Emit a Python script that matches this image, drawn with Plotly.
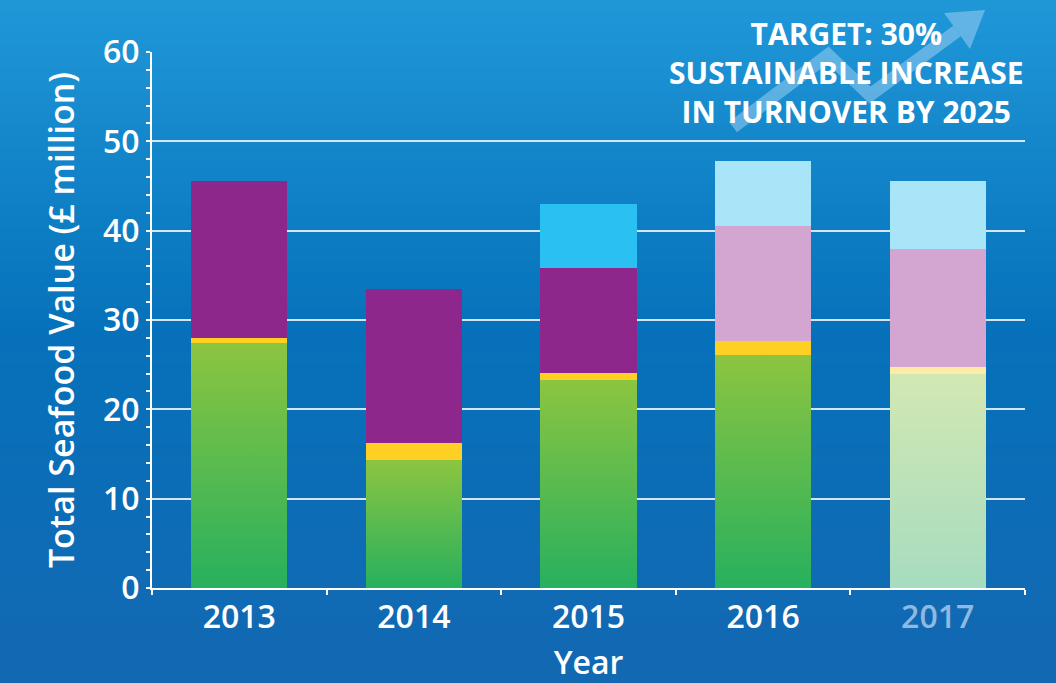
import plotly.graph_objects as go

years = ["2013", "2014", "2015", "2016", "2017"]
tick_labels = ["2013", "2014", "2015", "2016", "<span style='color:#8fb9e0'>2017</span>"]
green_vals = [27.4, 14.3, 23.3, 26.1, 23.9]
yellow_vals = [0.6, 1.9, 0.8, 1.6, 0.8]
purple_vals = [17.6, 17.3, 11.7, 12.8, 13.3]
cyan_vals = [0, 0, 7.2, 7.3, 7.6]

green_cols = ["#62bb4a", "#62bb4a", "#62bb4a", "#62bb4a", "#c2e4b8"]
yellow_cols = ["#fdd023", "#fdd023", "#fdd023", "#fdd023", "#ffeaa6"]
purple_cols = ["#8e278c", "#8e278c", "#8e278c", "#d2a6d1", "#d2a6d1"]
cyan_cols = ["#2ac1f2", "#2ac1f2", "#2ac1f2", "#a9e5f9", "#a9e5f9"]

W, H = 1056, 683
L, R, T, B = 152, 31, 52, 95
PW, PH = W - L - R, H - T - B


def px(x):
    return (x - L) / PW


def py(y):
    return (H - B - y) / PH


fig = go.Figure()
for name, vals, cols in [("Green", green_vals, green_cols),
                         ("Yellow", yellow_vals, yellow_cols),
                         ("Purple", purple_vals, purple_cols),
                         ("Blue", cyan_vals, cyan_cols)]:
    fig.add_trace(go.Bar(x=years, y=vals, name=name,
                         marker=dict(color=cols, line=dict(width=0))))

# background gradient strips
shapes = []
stops = [(0, (0x20, 0x98, 0xd8)), (330, (0x06, 0x72, 0xbb)), (683, (0x14, 0x68, 0xb2))]
N = 60
for i in range(N):
    y0 = i * H / N
    y1 = (i + 1) * H / N + 1
    ym = (y0 + y1) / 2
    for (a, ca), (b, cb) in zip(stops[:-1], stops[1:]):
        if a <= ym <= b:
            t = (ym - a) / (b - a)
            c = tuple(int(ca[k] + (cb[k] - ca[k]) * t) for k in range(3))
            break
    shapes.append(dict(type="rect", xref="paper", yref="paper", layer="below",
                       x0=px(0), x1=px(W), y0=py(y1), y1=py(y0),
                       fillcolor="rgb(%d,%d,%d)" % c, line=dict(width=0)))

# decorative arrow
pts = [(733, 127), (828, 55), (870, 95), (957, 31)]
path = "M " + " L ".join("%f,%f" % (px(x), py(y)) for x, y in pts)
shapes.append(dict(type="path", xref="paper", yref="paper", path=path,
                   line=dict(color="rgba(165,212,245,0.5)", width=13)))
head = [(985, 10), (970, 49), (944, 13)]
hpath = "M " + " L ".join("%f,%f" % (px(x), py(y)) for x, y in head) + " Z"
shapes.append(dict(type="path", xref="paper", yref="paper", path=hpath,
                   fillcolor="rgba(165,212,245,0.5)", line=dict(width=0)))

fig.update_layout(
    width=W, height=H,
    margin=dict(l=L, r=R, t=T, b=B, autoexpand=False),
    barmode="stack",
    bargap=0.45,
    showlegend=False,
    paper_bgcolor="#0e6fb8",
    plot_bgcolor="rgba(0,0,0,0)",
    font=dict(family="Open Sans", color="white", size=30, weight=600),
    shapes=shapes,
    annotations=[dict(
        text="TARGET: 30%<br>SUSTAINABLE INCREASE<br>IN TURNOVER BY 2025",
        xref="paper", yref="paper", x=px(846), y=py(72),
        xanchor="center", yanchor="middle", showarrow=False, align="center",
        font=dict(size=30, color="white", family="Open Sans", weight=700))],
)
fig.update_yaxes(
    range=[0, 60], dtick=10, showgrid=True, gridcolor="rgba(235,242,250,0.9)", gridwidth=2,
    showline=True, linecolor="white", linewidth=2,
    ticks="outside", ticklen=4, tickcolor="white", tickwidth=2,
    minor=dict(dtick=2, ticks="outside", ticklen=4, tickcolor="white", tickwidth=2, showgrid=False),
    tickfont=dict(size=32, color="white"),
    title=dict(text="Total Seafood Value (£ million)", font=dict(size=34, color="white"), standoff=18),
    zeroline=False, automargin=False,
)
fig.update_xaxes(
    type="category", tickvals=years, ticktext=tick_labels,
    showline=True, linecolor="white", linewidth=2,
    ticks="outside", tickson="boundaries", ticklen=5, tickcolor="white", tickwidth=2,
    tickfont=dict(size=32, color="white"),
    title=dict(text="Year", font=dict(size=32, color="white"), standoff=40),
    automargin=False,
)

post = """
document.body.style.margin = '0';
document.body.style.overflow = 'hidden';
var gd = document.getElementById('{plot_id}');
function applyGrad() {
  var svg = gd.querySelector('svg.main-svg');
  if (!svg) return;
  var ns = 'http://www.w3.org/2000/svg';
  var defs = svg.querySelector('defs');
  if (!document.getElementById('gGreen')) {
    [['gGreen', '#8cc540', '#27b05e'], ['gGreenFade', '#d2e8b2', '#a6dcc0']].forEach(function (g) {
      var lg = document.createElementNS(ns, 'linearGradient');
      lg.setAttribute('id', g[0]);
      lg.setAttribute('x1', '0'); lg.setAttribute('y1', '0');
      lg.setAttribute('x2', '0'); lg.setAttribute('y2', '1');
      [[0, g[1]], [1, g[2]]].forEach(function (s) {
        var st = document.createElementNS(ns, 'stop');
        st.setAttribute('offset', s[0]);
        st.setAttribute('stop-color', s[1]);
        lg.appendChild(st);
      });
      defs.appendChild(lg);
    });
  }
  var traces = gd.querySelectorAll('g.barlayer g.trace.bars');
  if (!traces.length) return;
  var pts = traces[0].querySelectorAll('g.point path');
  pts.forEach(function (p, i) {
    p.style.fill = (i === pts.length - 1) ? 'url(#gGreenFade)' : 'url(#gGreen)';
  });
}
applyGrad();
gd.on('plotly_afterplot', applyGrad);
"""

fig.write_html("out.html", post_script=post, config={"displayModeBar": False})
